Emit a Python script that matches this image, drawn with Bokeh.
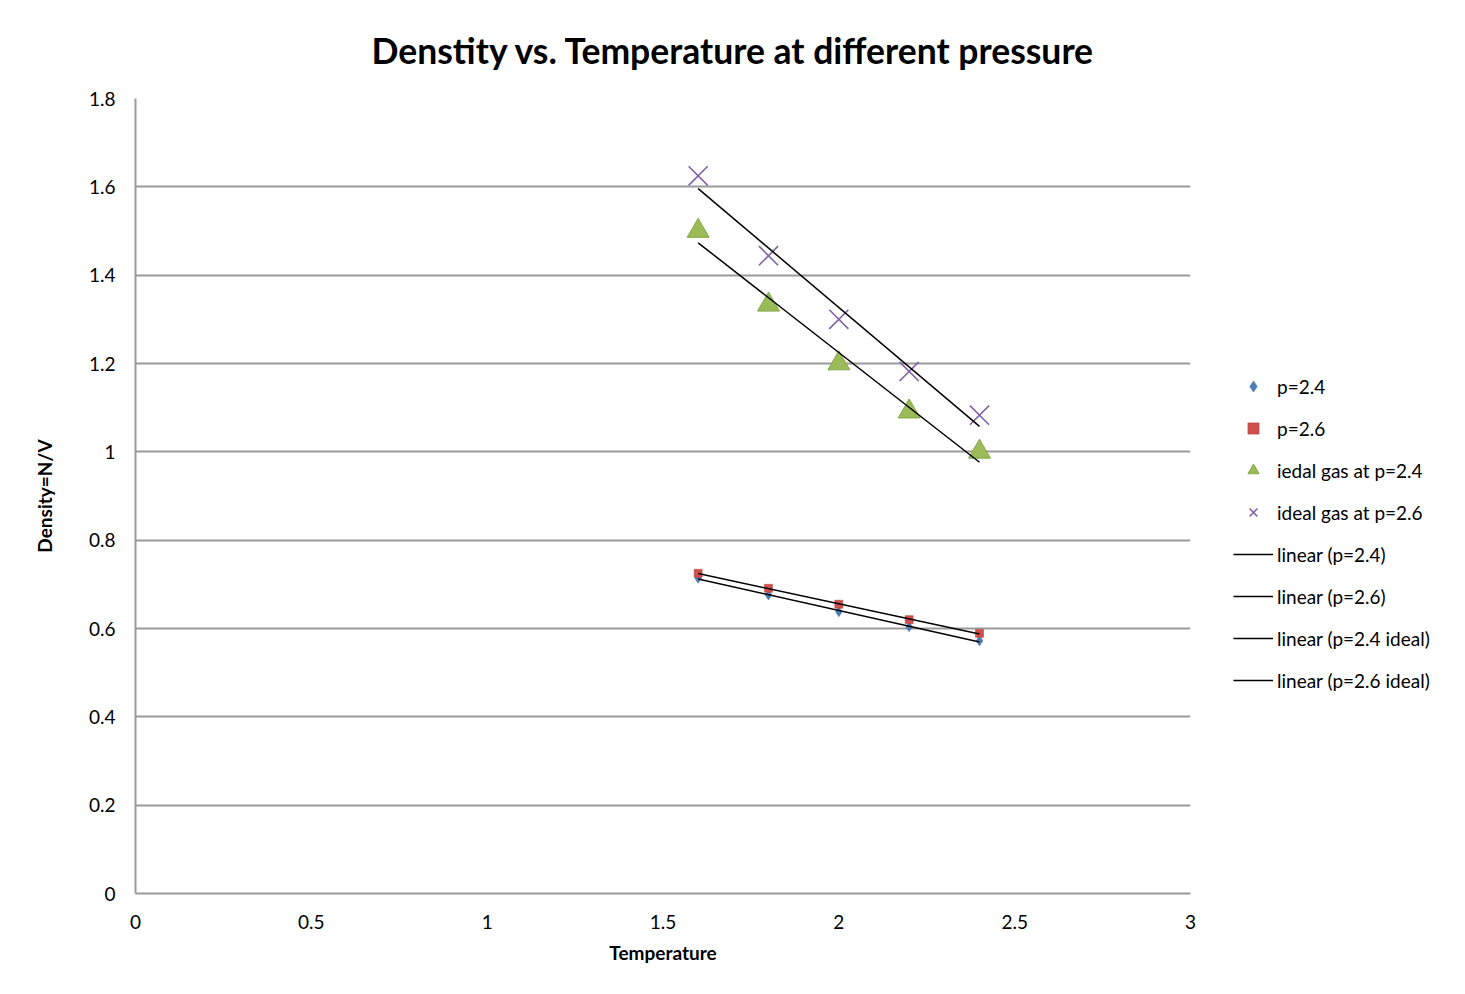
import numpy as np
from bokeh.plotting import figure
from bokeh.models import (FixedTicker, CustomJSTickFormatter, Legend, LegendItem, Range1d)
from bokeh.embed import file_html
from bokeh.resources import INLINE

# ---- data ----
temperature = [1.6, 1.8, 2.0, 2.2, 2.4]
dens_p24 = [0.714, 0.676, 0.638, 0.604, 0.572]
dens_p26 = [0.725, 0.691, 0.655, 0.620, 0.589]
ideal_p24 = [1.500, 1.333, 1.200, 1.091, 1.000]
ideal_p26 = [1.625, 1.444, 1.300, 1.182, 1.083]

x_ticks = [0, 0.5, 1, 1.5, 2, 2.5, 3]
y_ticks = [0, 0.2, 0.4, 0.6, 0.8, 1.0, 1.2, 1.4, 1.6, 1.8]

title_text = "Denstity vs. Temperature at different pressure"
x_label = "Temperature"
y_label = "Density=N/V"
marker_names = ["p=2.4", "p=2.6", "iedal gas at p=2.4", "ideal gas at p=2.6"]
line_names = ["linear (p=2.4)", "linear (p=2.6)", "linear (p=2.4 ideal)", "linear (p=2.6 ideal)"]

FONT = "Lato"
ML, MT = 135, 97
FW, FH = 1055, 795
MB = 86

p = figure(frame_width=FW, frame_height=FH, output_backend="svg", toolbar_location=None,
           x_range=Range1d(0, 3), y_range=Range1d(0, 1.8),
           min_border_left=ML, min_border_right=0, min_border_top=MT, min_border_bottom=MB)
p.outline_line_color = None
p.background_fill_color = "white"
p.border_fill_color = "white"

p.title.text = title_text
p.title.text_font = FONT
p.title.text_font_size = "35.5px"
p.title.text_font_style = "bold"
p.title.text_color = "black"
p.title.align = "left"
p.title.offset = 236
p.title.standoff = 53

fmt = CustomJSTickFormatter(code="return String(Number(tick.toFixed(3)));")
for ax, ticks in ((p.xaxis[0], x_ticks), (p.yaxis[0], y_ticks)):
    ax.ticker = FixedTicker(ticks=ticks)
    ax.formatter = fmt
    ax.major_tick_line_color = None
    ax.minor_tick_line_color = None
    ax.axis_line_color = "#9a9a9a"
    ax.axis_line_width = 2
    ax.major_label_text_font = FONT
    ax.major_label_text_font_size = "19px"
    ax.major_label_text_color = "black"
    ax.axis_label_text_font = FONT
    ax.axis_label_text_font_size = "19px"
    ax.axis_label_text_font_style = "bold"
    ax.axis_label_text_color = "black"

p.xaxis.axis_label = x_label
p.yaxis.axis_label = y_label
p.xaxis.major_label_standoff = 15
p.yaxis.major_label_standoff = 14
p.xaxis.axis_label_standoff = 9
p.yaxis.axis_label_standoff = 30

p.xgrid.grid_line_color = None
p.ygrid.grid_line_color = "#9a9a9a"
p.ygrid.grid_line_width = 2
p.ygrid.ticker = FixedTicker(ticks=y_ticks)

r1 = p.scatter(temperature, dens_p24, marker="diamond", size=10, fill_color="#4a7ebb",
               line_color="#3b6aa6", line_width=0.5)
r2 = p.scatter(temperature, dens_p26, marker="square", size=8, fill_color="#d0504d",
               line_color="#b03c39", line_width=0.5)
r3 = p.scatter(temperature, ideal_p24, marker="triangle", size=22, fill_color="#9bbb59",
               line_color="#86a84a", line_width=1)
r4 = p.scatter(temperature, ideal_p26, marker="x", size=27, line_color="#8064a2",
               line_width=1.6)

line_rs = []
for ys in (dens_p24, dens_p26, ideal_p24, ideal_p26):
    k, b = np.polyfit(temperature, ys, 1)
    xs = [min(temperature), max(temperature)]
    line_rs.append(p.line(xs, [k * xx + b for xx in xs], line_color="black", line_width=1.5))

items = [LegendItem(label=n, renderers=[r]) for n, r in zip(marker_names, [r1, r2, r3, r4])]
items += [LegendItem(label=n, renderers=[r]) for n, r in zip(line_names, line_rs)]
legend = Legend(items=items, location=(43, 199), orientation="vertical",
                glyph_width=40, glyph_height=28, label_height=28, spacing=14,
                label_standoff=4, padding=0, margin=0,
                border_line_color=None, background_fill_alpha=0,
                label_text_font=FONT, label_text_font_size="19px", label_text_color="black")
p.add_layout(legend, "right")

open("out.html", "w").write(file_html(p, INLINE))
